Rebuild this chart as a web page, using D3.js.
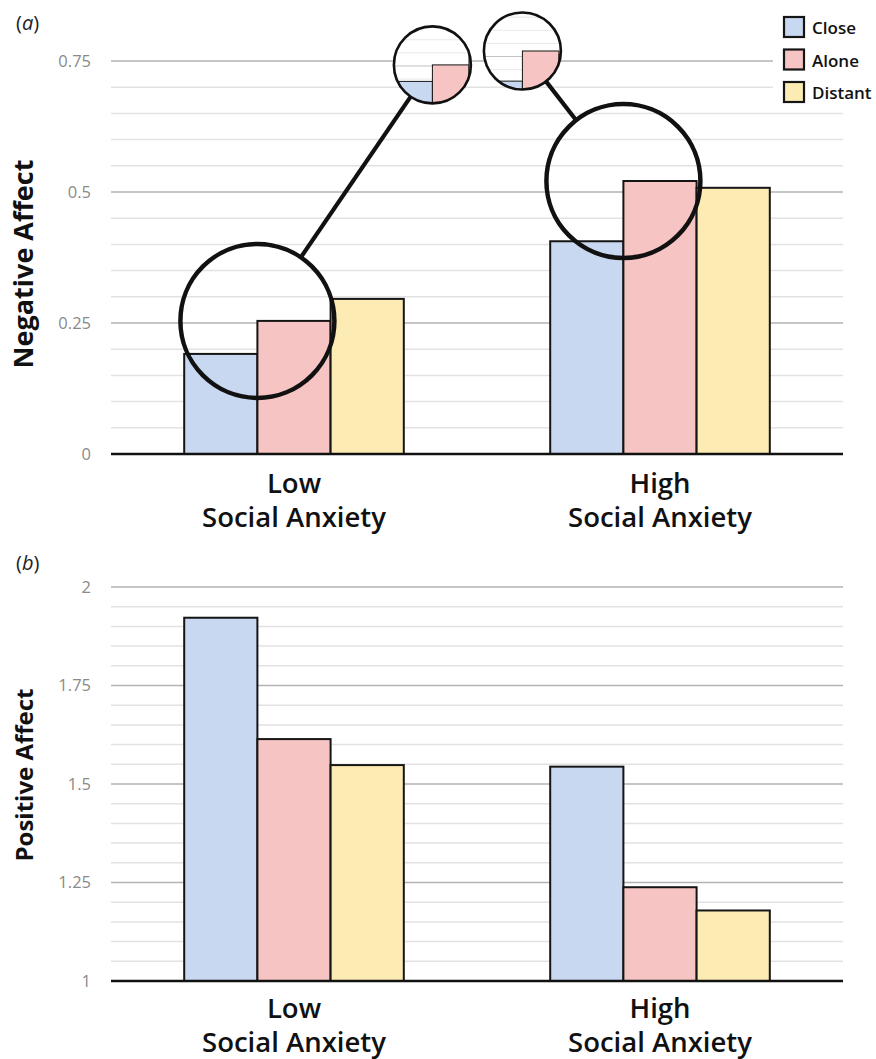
<!DOCTYPE html>
<html><head><meta charset="utf-8">
<script src="https://cdn.jsdelivr.net/npm/d3@7"></script>
<style>body{margin:0;background:#fff} svg{display:block}</style>
</head><body>
<svg id="chart" width="876" height="1059"></svg>
<script>
// ---------- data ----------
const groups = ["Low", "High"];
const groupLine1 = ["Low", "High"];
const groupLine2 = ["Social Anxiety", "Social Anxiety"];
const conditions = ["Close", "Alone", "Distant"];
const negClose = [0.191, 0.406];
const negAlone = [0.254, 0.521];
const negDistant = [0.296, 0.508];
const posClose = [1.922, 1.544];
const posAlone = [1.614, 1.238];
const posDistant = [1.548, 1.179];
const negDomain = [0, 0.75];
const posDomain = [1, 2];
const negTicks = [0, 0.25, 0.5, 0.75];
const negTickLabels = ["0", "0.25", "0.5", "0.75"];
const posTicks = [1, 1.25, 1.5, 1.75, 2];
const posTickLabels = ["1", "1.25", "1.5", "1.75", "2"];
const minorStep = 0.05;

// ---------- style / layout ----------
const colors = {Close: "#c8d8f0", Alone: "#f6c4c2", Distant: "#fcecb4"};
const plotLeft = 111, plotRight = 843;
const FONT = "'Open Sans', 'Noto Sans', sans-serif";

const svg = d3.select("#chart");

const x0 = d3.scaleBand().domain(groups).range([plotLeft, plotRight])
  .paddingInner(0.4).paddingOuter(0.2);
const x1 = d3.scaleBand().domain(conditions).range([0, x0.bandwidth()]).padding(0);

function minorTicks(domain) {
  const n = Math.round((domain[1] - domain[0]) / minorStep);
  return d3.range(n + 1).map(i => +(domain[0] + i * minorStep).toFixed(4));
}

function drawContent(g, y, series, ticks, domain) {
  const minors = minorTicks(domain).filter(v => !ticks.some(t => Math.abs(t - v) < 1e-6));
  g.selectAll("line.minor").data(minors).join("line").attr("class", "minor")
    .attr("x1", plotLeft).attr("x2", plotRight)
    .attr("y1", d => y(d)).attr("y2", d => y(d))
    .attr("stroke", "#e2e2e2").attr("stroke-width", 1.5);
  g.selectAll("line.major").data(ticks.filter(t => t !== domain[0])).join("line").attr("class", "major")
    .attr("x1", plotLeft).attr("x2", plotRight)
    .attr("y1", d => y(d)).attr("y2", d => y(d))
    .attr("stroke", "#b3b3b3").attr("stroke-width", 1.6);
}

function drawBars(g, y, series, domain) {
  const gg = g.selectAll("g.grp").data(groups).join("g").attr("class", "grp")
    .attr("transform", d => `translate(${x0(d)},0)`);
  gg.selectAll("rect").data((d, i) => conditions.map(c => ({c, v: series[c][i]})))
    .join("rect")
    .attr("x", d => x1(d.c)).attr("width", x1.bandwidth())
    .attr("y", d => y(d.v)).attr("height", d => y(domain[0]) - y(d.v))
    .attr("fill", d => colors[d.c]).attr("stroke", "#151515").attr("stroke-width", 2);
  g.append("line").attr("x1", plotLeft).attr("x2", plotRight)
    .attr("y1", y(domain[0])).attr("y2", y(domain[0]))
    .attr("stroke", "#111").attr("stroke-width", 2.5);
}

function drawAxisLabels(g, y, ticks, labels) {
  const ax = d3.axisLeft(y).tickValues(ticks).tickSize(0).tickPadding(20)
    .tickFormat((d, i) => labels[i]);
  const a = g.append("g").attr("transform", `translate(${plotLeft},0)`).call(ax);
  a.select(".domain").remove();
  a.selectAll("text").attr("font-family", FONT).attr("font-size", 16.5).attr("fill", "#8a8a8a");
}

function drawCategoryLabels(g, y, domain, gap1, gap2) {
  const base = y(domain[0]);
  const t = g.selectAll("text.cat").data(groups).join("text").attr("class", "cat")
    .attr("text-anchor", "middle").attr("font-family", FONT).attr("font-weight", 600)
    .attr("font-size", 27.5).attr("fill", "#111");
  t.append("tspan").attr("x", d => x0(d) + x0.bandwidth() / 2).attr("y", base + gap1)
    .text((d, i) => groupLine1[i]);
  t.append("tspan").attr("x", d => x0(d) + x0.bandwidth() / 2).attr("y", base + gap2)
    .text((d, i) => groupLine2[i]);
}

function panelTag(g, yPos, letter) {
  g.append("text").attr("x", 16).attr("y", yPos).attr("font-family", FONT).attr("font-size", 20).attr("fill", "#222")
    .call(t => { t.append("tspan").text("("); t.append("tspan").attr("font-style", "italic").text(letter); t.append("tspan").text(")"); });
}

// ---------- panel (a) ----------
const yNeg = d3.scaleLinear().domain(negDomain).range([454, 61]);
const negSeries = {Close: negClose, Alone: negAlone, Distant: negDistant};
const pa = svg.append("g");
drawContent(pa, yNeg, negSeries, negTicks, negDomain);
// legend mask
pa.append("rect").attr("x", 773).attr("y", 0).attr("width", 103).attr("height", 104).attr("fill", "#fff");
drawBars(pa, yNeg, negSeries, negDomain);
drawAxisLabels(pa, yNeg, negTicks, negTickLabels);
drawCategoryLabels(pa, yNeg, negDomain, 39, 73);
panelTag(pa, 30, "a");

pa.append("text").attr("transform", `translate(33,${264}) rotate(-90)`)
  .attr("text-anchor", "middle").attr("font-family", FONT).attr("font-weight", 700)
  .attr("font-size", 27).attr("fill", "#111").text("Negative Affect");

// legend
const lg = pa.append("g");
conditions.forEach((c, i) => {
  lg.append("rect").attr("x", 784).attr("y", 17 + i * 32.5).attr("width", 20).attr("height", 20)
    .attr("fill", colors[c]).attr("stroke", "#151515").attr("stroke-width", 2.2);
  lg.append("text").attr("x", 812).attr("y", 34 + i * 32.5).attr("font-family", FONT)
    .attr("font-weight", 600).attr("font-size", 17).attr("fill", "#111").text(c);
});

// magnifier annotations
const bigR = 77, smallR = 38.5, magScale = 0.5;
const smallOffsets = [[175, -256], [-101, -130]];
const defs = svg.append("defs");
groups.forEach((gname, i) => {
  const bc = [x0(gname) + x1("Alone"), yNeg(negAlone[i])];
  const sc = [bc[0] + smallOffsets[i][0], bc[1] + smallOffsets[i][1]];
  const dx = bc[0] - sc[0], dy = bc[1] - sc[1], L = Math.hypot(dx, dy);
  const ux = dx / L, uy = dy / L;
  pa.append("line")
    .attr("x1", sc[0] + ux * smallR).attr("y1", sc[1] + uy * smallR)
    .attr("x2", bc[0] - ux * bigR).attr("y2", bc[1] - uy * bigR)
    .attr("stroke", "#111").attr("stroke-width", 4.2);
  pa.append("circle").attr("cx", bc[0]).attr("cy", bc[1]).attr("r", bigR)
    .attr("fill", "none").attr("stroke", "#111").attr("stroke-width", 4.5);
  const cid = "clip" + i;
  defs.append("clipPath").attr("id", cid).append("circle")
    .attr("cx", sc[0]).attr("cy", sc[1]).attr("r", smallR);
  const sg = pa.append("g").attr("clip-path", `url(#${cid})`);
  sg.append("circle").attr("cx", sc[0]).attr("cy", sc[1]).attr("r", smallR).attr("fill", "#fff");
  const inner = sg.append("g")
    .attr("transform", `translate(${sc[0]},${sc[1]}) scale(${magScale}) translate(${-bc[0]},${-bc[1]})`);
  drawContent(inner, yNeg, negSeries, negTicks, negDomain);
  drawBars(inner, yNeg, negSeries, negDomain);
  pa.append("circle").attr("cx", sc[0]).attr("cy", sc[1]).attr("r", smallR)
    .attr("fill", "none").attr("stroke", "#111").attr("stroke-width", 2.6);
});

// ---------- panel (b) ----------
const yPos = d3.scaleLinear().domain(posDomain).range([981, 587]);
const posSeries = {Close: posClose, Alone: posAlone, Distant: posDistant};
const pb = svg.append("g");
drawContent(pb, yPos, posSeries, posTicks, posDomain);
drawBars(pb, yPos, posSeries, posDomain);
drawAxisLabels(pb, yPos, posTicks, posTickLabels);
drawCategoryLabels(pb, yPos, posDomain, 36.5, 70.5);
panelTag(pb, 570, "b");

pb.append("text").attr("transform", `translate(33,${775}) rotate(-90)`)
  .attr("text-anchor", "middle").attr("font-family", FONT).attr("font-weight", 700)
  .attr("font-size", 24).attr("fill", "#111").text("Positive Affect");
</script>
</body></html>
